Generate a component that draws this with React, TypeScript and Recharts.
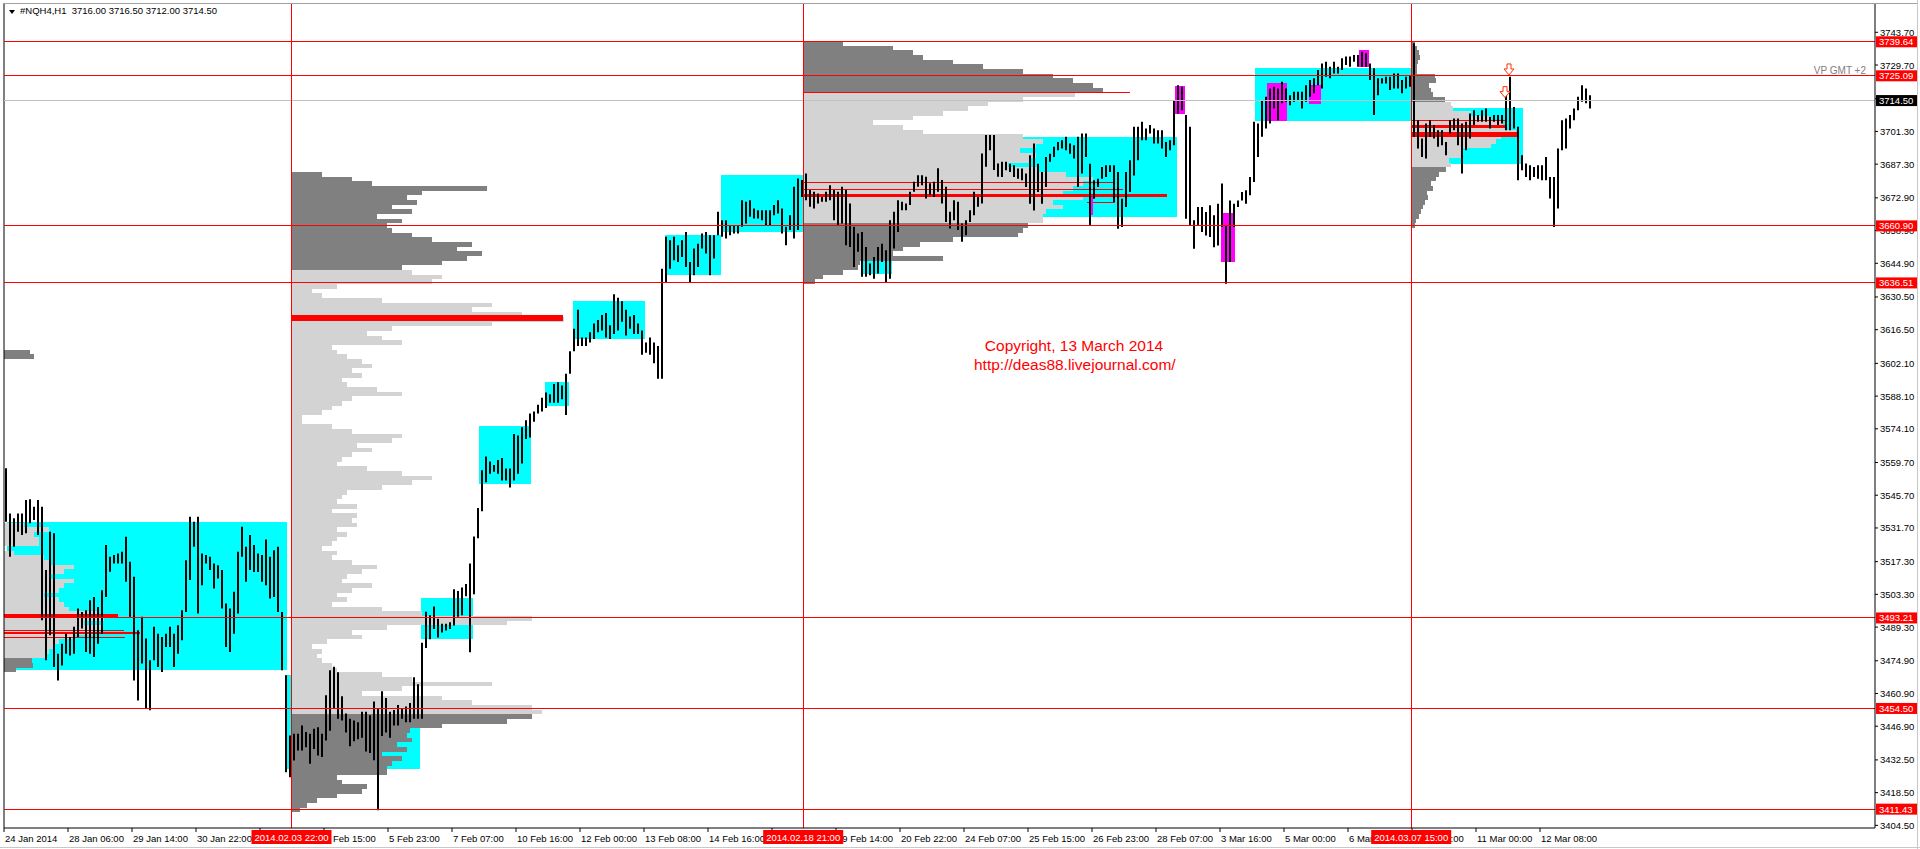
import React from 'react'
import { ComposedChart, Bar, XAxis, YAxis, ReferenceArea, ReferenceLine, ReferenceDot } from 'recharts'

const FONT = '"Liberation Sans", Arial, sans-serif'

// NQH4 hourly bars, two H1 bars merged per entry: [high, low]
const barsLateJan: [number, number][] = [
  [3557.2, 3534.4], [3537.9, 3519.4], [3535.8, 3523.7], [3537.9, 3530.1], [3537.9, 3528.7], [3543.7, 3529.4],
  [3544.0, 3533.7], [3540.8, 3535.1], [3543.7, 3528.7], [3540.8, 3492.2], [3513.7, 3475.1], [3530.1, 3485.8],
  [3529.4, 3472.2], [3477.9, 3466.5], [3482.2, 3472.9], [3486.5, 3477.9], [3485.1, 3477.2], [3489.4, 3477.9],
  [3497.2, 3485.1], [3495.8, 3488.7], [3496.5, 3478.7], [3500.8, 3477.9], [3502.2, 3476.5], [3497.9, 3482.2],
  [3505.1, 3486.5], [3524.4, 3502.2], [3519.4, 3513.0], [3520.1, 3516.5], [3520.8, 3516.5], [3521.5, 3516.5],
  [3527.9, 3508.7], [3517.2, 3493.7], [3510.8, 3466.5], [3487.9, 3457.9], [3493.7, 3473.7], [3484.4, 3454.4],
  [3475.1, 3453.7], [3489.4, 3475.1], [3486.5, 3472.2], [3485.1, 3470.1], [3486.5, 3480.8], [3489.4, 3480.8],
  [3486.5, 3472.2], [3490.1, 3477.9], [3496.5, 3483.7], [3517.9, 3495.8], [3536.5, 3509.4], [3534.4, 3523.7],
  [3536.5, 3495.1], [3520.8, 3507.2], [3520.1, 3516.5], [3519.4, 3513.7], [3516.5, 3505.8], [3515.8, 3510.1],
  [3513.7, 3497.2], [3499.4, 3480.8], [3497.2, 3478.7], [3504.4, 3486.5], [3521.5, 3495.1], [3532.2, 3519.4],
  [3523.7, 3508.7], [3528.7, 3513.7], [3524.4, 3512.9], [3520.8, 3512.9], [3520.1, 3508.7], [3526.8, 3507.2],
  [3519.4, 3501.5], [3522.2, 3502.2], [3523.7, 3495.8], [3495.8, 3470.8], [3468.7, 3427.2], [3442.9, 3425.1],
]

const barsFebEarly: [number, number][] = [
  [3443.7, 3432.2], [3443.7, 3436.5], [3447.2, 3436.5], [3444.4, 3437.9], [3443.7, 3430.8], [3445.8, 3437.2],
  [3446.5, 3434.4], [3443.7, 3433.7], [3460.1, 3440.8], [3470.8, 3445.0], [3472.3, 3454.6], [3470.0, 3450.1],
  [3459.7, 3449.4], [3452.3, 3444.2], [3450.1, 3438.3], [3449.4, 3440.5], [3448.6, 3441.3], [3453.1, 3442.0],
  [3453.1, 3436.1], [3451.6, 3435.4], [3457.5, 3432.4], [3454.5, 3411.0], [3461.9, 3442.7], [3459.0, 3444.2],
  [3453.1, 3442.0], [3453.8, 3447.2], [3456.0, 3447.2], [3454.5, 3450.1], [3455.3, 3448.6], [3456.8, 3448.6],
  [3467.8, 3450.1], [3464.9, 3450.1], [3482.6, 3450.1], [3495.9, 3480.4], [3494.4, 3484.1], [3498.1, 3488.5],
  [3492.9, 3484.8], [3490.7, 3487.0], [3490.7, 3487.8], [3491.4, 3488.5], [3505.5, 3490.0], [3504.7, 3493.7],
  [3506.2, 3494.4], [3507.7, 3502.5], [3516.5, 3478.5], [3528.1, 3503.3],
]

const barsFebMid: [number, number][] = [
  [3540.2, 3527.3], [3556.4, 3538.8], [3562.3, 3551.2], [3560.1, 3554.9], [3558.6, 3555.7], [3560.8, 3554.9],
  [3561.6, 3552.0], [3557.1, 3552.0], [3557.1, 3549.0], [3571.9, 3552.0], [3571.2, 3554.9], [3574.8, 3559.3],
  [3577.8, 3569.7], [3580.7, 3570.4], [3581.5, 3577.1], [3584.4, 3580.7], [3587.4, 3581.5], [3589.6, 3583.0],
  [3588.9, 3585.2], [3593.3, 3585.2], [3594.0, 3585.2], [3592.6, 3586.7], [3597.7, 3580.0], [3607.3, 3597.7],
  [3616.9, 3607.3], [3625.0, 3609.5], [3613.2, 3609.5], [3613.2, 3609.5], [3615.4, 3611.0], [3619.1, 3612.5],
  [3620.6, 3615.4], [3622.8, 3616.2], [3623.6, 3613.2], [3618.4, 3612.5], [3631.7, 3614.7], [3630.2, 3616.2],
  [3628.7, 3619.9], [3625.0, 3614.0], [3622.1, 3616.9], [3622.8, 3614.7], [3619.1, 3614.7], [3616.2, 3605.8],
  [3611.0, 3606.6], [3613.2, 3605.8], [3611.0, 3602.1], [3609.5, 3595.5], [3642.6, 3595.5],
]

const barsFebLate: [number, number][] = [
  [3656.2, 3636.9], [3654.8, 3642.6], [3656.2, 3646.2], [3652.6, 3645.5], [3654.8, 3647.6], [3658.3, 3643.3],
  [3645.5, 3636.9], [3651.2, 3639.8], [3653.3, 3643.3], [3657.6, 3651.2], [3658.3, 3649.1], [3656.9, 3639.8],
  [3656.9, 3646.9], [3666.9, 3656.9], [3663.3, 3656.2], [3663.3, 3655.5], [3661.2, 3656.9], [3661.2, 3657.6],
  [3661.2, 3657.6], [3671.9, 3660.5], [3671.2, 3661.9], [3671.9, 3664.8], [3668.3, 3664.1], [3667.6, 3664.1],
  [3667.6, 3663.3], [3667.6, 3661.2], [3667.6, 3661.2], [3669.8, 3665.5], [3671.9, 3666.2], [3668.3, 3657.6],
  [3660.5, 3652.6], [3665.5, 3659.1], [3677.6, 3655.5], [3681.2, 3659.1], [3680.5, 3673.3],
]

const barsFebEnd: [number, number][] = [
  [3683.3, 3671.9], [3676.2, 3669.1], [3675.5, 3668.3], [3674.8, 3670.5], [3673.3, 3671.2], [3675.5, 3671.2],
  [3678.3, 3671.9], [3676.2, 3663.3], [3675.5, 3661.2], [3677.6, 3661.9], [3676.2, 3652.6], [3670.5, 3651.9],
  [3660.5, 3643.3], [3657.6, 3649.8], [3658.3, 3639.1], [3651.9, 3639.1], [3644.8, 3639.8], [3647.6, 3638.3],
  [3651.9, 3640.5], [3653.3, 3645.5], [3650.5, 3636.9], [3663.3, 3638.3], [3666.9, 3651.2], [3671.9, 3658.3],
  [3671.2, 3667.6], [3670.5, 3667.6], [3675.5, 3669.8], [3679.8, 3675.5], [3682.6, 3677.6], [3682.6, 3678.3],
  [3681.9, 3672.6], [3679.1, 3674.1], [3679.8, 3673.3], [3685.5, 3675.5], [3680.5, 3670.5], [3677.6, 3662.6],
  [3666.9, 3659.8], [3671.9, 3663.3], [3671.2, 3659.1], [3661.9, 3654.1], [3663.3, 3656.9], [3667.6, 3662.6],
  [3675.5, 3665.5], [3673.3, 3669.1], [3691.9, 3670.5], [3699.8, 3686.2], [3699.8, 3693.3], [3699.8, 3684.8],
  [3687.6, 3681.9],
]

const barsMarEarly: [number, number][] = [
  [3688.3, 3681.8], [3688.3, 3684.7], [3687.5, 3684.0], [3686.8, 3681.8], [3685.4, 3681.1], [3685.4, 3680.4],
  [3683.3, 3677.5], [3691.1, 3670.4], [3696.1, 3667.5], [3687.5, 3675.4], [3684.0, 3670.4], [3690.4, 3677.5],
  [3691.8, 3688.3], [3694.7, 3690.4], [3696.8, 3693.3], [3697.5, 3694.0], [3699.0, 3693.3], [3696.1, 3691.8],
  [3695.4, 3689.7], [3699.0, 3677.5], [3700.4, 3683.3], [3700.4, 3690.4], [3687.5, 3661.1], [3680.4, 3672.5],
  [3681.1, 3677.5], [3686.1, 3681.1], [3686.8, 3681.8], [3686.8, 3684.0], [3686.8, 3671.1], [3684.0, 3659.7],
  [3672.5, 3660.4], [3684.0, 3669.0], [3689.0, 3675.4], [3703.3, 3682.5], [3703.3, 3689.0], [3705.4, 3697.5],
  [3702.5, 3697.5], [3704.0, 3700.4], [3702.5, 3696.1], [3701.8, 3696.1], [3701.8, 3694.0], [3696.8, 3690.4],
  [3697.5, 3693.3], [3714.7, 3695.4], [3721.1, 3709.0], [3720.4, 3710.4], [3708.3, 3664.0], [3703.3, 3661.1],
  [3663.3, 3651.1], [3669.0, 3661.1], [3669.0, 3658.3], [3666.8, 3656.8], [3669.7, 3656.1], [3665.4, 3651.8],
  [3670.4, 3652.5], [3679.0, 3660.4], [3661.1, 3636.1], [3671.8, 3645.4], [3670.4, 3660.4], [3671.8, 3669.0],
  [3675.4, 3671.8], [3676.1, 3670.4], [3681.8, 3674.0], [3705.4, 3679.7], [3704.7, 3690.4], [3714.7, 3699.0],
  [3716.1, 3702.5], [3719.7, 3704.7], [3720.4, 3711.1], [3719.7, 3706.1], [3722.5, 3713.3], [3719.7, 3714.0],
  [3716.8, 3712.5], [3718.3, 3714.0], [3718.3, 3714.7],
]

const barsMarMid: [number, number][] = [
  [3718.3, 3711.1], [3721.1, 3714.0], [3723.3, 3716.1], [3724.0, 3717.6], [3727.6, 3721.1], [3730.4, 3719.7],
  [3731.1, 3724.7], [3729.0, 3724.0], [3731.1, 3726.1], [3729.0, 3726.1], [3732.6, 3727.6], [3733.3, 3729.7],
  [3733.3, 3729.0], [3734.0, 3731.1], [3734.0, 3729.0], [3735.4, 3729.0], [3734.7, 3729.0], [3730.4, 3723.3],
  [3728.3, 3708.3], [3724.0, 3716.8], [3724.0, 3721.8], [3724.7, 3721.8], [3724.7, 3719.0], [3726.1, 3719.7],
  [3726.1, 3719.7], [3723.3, 3717.6], [3724.7, 3719.7], [3725.4, 3720.4],
]

const barsMarLate: [number, number][] = [
  [3739.0, 3699.0], [3706.1, 3694.0], [3698.3, 3690.4], [3704.7, 3689.7], [3706.1, 3699.0], [3704.0, 3698.3],
  [3701.8, 3694.7], [3701.8, 3695.4], [3696.8, 3691.1], [3706.1, 3700.4], [3706.8, 3701.8], [3706.8, 3695.4],
  [3704.7, 3683.3], [3705.4, 3693.3], [3709.0, 3698.3], [3710.4, 3704.0], [3708.3, 3705.4], [3710.4, 3705.4],
  [3711.1, 3705.4], [3707.6, 3702.6], [3708.3, 3705.4], [3708.3, 3704.0], [3708.3, 3704.7], [3719.0, 3701.8],
  [3724.7, 3701.8], [3711.8, 3702.6], [3703.3, 3680.4], [3691.1, 3684.7], [3687.6, 3681.8], [3686.8, 3680.4],
  [3686.1, 3681.8], [3686.8, 3681.1], [3686.8, 3680.4], [3690.4, 3680.4], [3681.8, 3672.6], [3681.8, 3660.4],
  [3694.0, 3668.3], [3706.1, 3693.3], [3706.8, 3694.0], [3708.3, 3702.6], [3711.1, 3706.1], [3716.1, 3710.4],
  [3721.1, 3714.0], [3719.7, 3713.3], [3716.8, 3711.1],
]

// axis labels
const timeLabels = [
  '24 Jan 2014', '28 Jan 06:00', '29 Jan 14:00', '30 Jan 22:00', '3 Feb 07:00', '4 Feb 15:00', '5 Feb 23:00',
  '7 Feb 07:00', '10 Feb 16:00', '12 Feb 00:00', '13 Feb 08:00', '14 Feb 16:00', '18 Feb 06:00', '19 Feb 14:00',
  '20 Feb 22:00', '24 Feb 07:00', '25 Feb 15:00', '26 Feb 23:00', '28 Feb 07:00', '3 Mar 16:00', '5 Mar 00:00',
  '6 Mar 08:00', '7 Mar 16:00', '11 Mar 00:00', '12 Mar 08:00',
]
const priceTicks = [
  3743.7, 3729.7, 3715.3, 3701.3, 3687.3, 3672.9, 3658.9, 3644.9, 3630.5, 3616.5, 3602.1, 3588.1, 3574.1,
  3559.7, 3545.7, 3531.7, 3517.3, 3503.3, 3489.3, 3474.9, 3460.9, 3446.9, 3432.5, 3418.5, 3404.5,
]

// horizontal levels and session starts (in bar units)
const levels = [3739.64, 3725.09, 3660.9, 3636.51, 3493.21, 3454.5, 3411.43]
const lastPrice = 3714.5
const sessionStarts = [71.375, 199.3, 351.3]
const sessionLabels = ['2014.02.03 22:00', '2014.02.18 21:00', '2014.03.07 15:00']

// volume profiles, rows of 2 points from base price (volume, in px-like units)
const prof0Vol = [30, 26]
const prof1Vol = [
  12, 29, 28, 43, 45, 50, 55, 70, 90, 99, 80, 100, 95, 65, 60, 55, 40, 55, 60, 70,
  45, 60, 70, 45, 40, 10, 0, 35, 35, 30, 45, 20, 0, 0,
]
const prof2Vol = [
  8, 15, 25, 45, 70, 75, 50, 45, 95, 95, 100, 110, 90, 115, 105, 120, 115, 118, 150, 215,
  240, 250, 240, 180, 150, 70, 110, 200, 120, 90, 45, 40, 30, 25, 30, 20, 35, 70, 60, 95,
  215, 240, 130, 90, 40, 55, 45, 60, 80, 50, 55, 70, 85, 60, 40, 45, 30, 40, 45, 55,
  45, 65, 60, 65, 40, 65, 45, 50, 55, 90, 120, 140, 110, 75, 45, 50, 60, 80, 65, 100,
  110, 60, 40, 10, 10, 30, 40, 50, 60, 110, 85, 55, 50, 70, 60, 80, 70, 55, 45, 40,
  110, 90, 75, 100, 200, 272, 230, 180, 200, 90, 30, 20, 45, 140, 150, 120, 110, 150, 175, 190,
  165, 180, 140, 120, 100, 95, 110, 85, 120, 100, 125, 115, 130, 195, 80, 60, 30,
]
const prof3Vol = [
  12, 20, 40, 55, 57, 140, 90, 100, 117, 150, 215, 220, 225, 240, 240, 243, 260, 250, 280, 260,
  270, 280, 290, 263, 235, 205, 227, 233, 217, 233, 240, 220, 120, 100, 70, 110, 140, 165, 185, 220,
  272, 300, 290, 270, 250, 220, 180, 150, 120, 110, 90, 40,
]
const prof4Vol = [
  4, 5, 8, 10, 12, 14, 17, 16, 22, 20, 25, 28, 35, 40, 38, 52, 50, 80, 85, 90,
  105, 95, 92, 80, 60, 42, 40, 34, 22, 20, 18, 25, 24, 6, 6, 7, 9, 8, 6, 4,
]
const profStart = [-0.5, -0.5, 71.375, 199.3, 351.3]
const profBase = [3604, 3470, 3410, 3636, 3660]
const profVa: [number, number][] = [[0, 0], [3476, 3536], [3452, 3642], [3662, 3718], [3686, 3714]]

// POC / level segments: [price low, price high, from bar, to bar]
const pocSegs: [number, number, number, number][] = [
  [3493.4, 3495.1, -0.5, 28], [3486.2, 3487.2, -0.5, 33.5], [3487.7, 3488.1, -0.5, 29.5], [3484.6, 3485.0, -0.5, 29.8],
  [3620.2, 3622.8, 71.375, 139.25], [3621.3, 3621.7, 139.25, 148],
  [3717.6, 3718.3, 199.3, 281], [3679.2, 3679.6, 199.3, 276.75], [3676.2, 3676.6, 199.3, 279.25],
  [3673.3, 3674.7, 199.3, 290.25], [3670.9, 3671.3, 270.25, 277.25],
  [3699.0, 3701.1, 351.3, 377.75], [3702.6, 3704.0, 351.3, 375.25], [3705.9, 3706.3, 351.3, 375.25],
]

// value-area boxes: [from bar, to bar, price low, price high]
const cyanBoxes: [number, number, number, number][] = [
  [0.17, 70.2, 3470.8, 3534.4], [69.75, 71.25, 3428.7, 3468.7], [71.4, 103.5, 3428.6, 3447.9],
  [103.75, 116.75, 3484.1, 3501.8], [118.25, 131.25, 3550.5, 3575.1], [134.75, 140.75, 3583.7, 3594.0],
  [141.75, 159.75, 3612.5, 3628.7], [164.75, 178.75, 3639.8, 3656.9], [178.75, 199.3, 3658.3, 3682.6],
  [214.25, 221.5, 3640.5, 3646.2], [239.25, 292.75, 3664.7, 3699.0], [312.25, 351.5, 3705.8, 3728.5],
  [352.25, 379.25, 3687.3, 3711.4],
]
const magentaBoxes: [number, number, number, number][] = [
  [292.25, 294.75, 3708.7, 3720.7], [303.75, 307.25, 3645.4, 3666.4], [270.75, 271.75, 3665.4, 3673.3],
  [315.25, 320.25, 3705.7, 3721.8], [325.75, 328.75, 3713.0, 3721.1], [338.25, 340.75, 3728.7, 3736.1],
]

// signal arrows: [bar, price]
const arrows: [number, number][] = [[375.75, 3727.6], [374.75, 3717.9]]

const ROW = 2
const VOL_PER_BAR = 4
const X_DOMAIN: [number, number] = [-0.5, 467.25]
const Y_DOMAIN: [number, number] = [3403.37, 3756.23]
const PLOT_W = 1871
const PLOT_H = 825
const PX_PER_BAR = PLOT_W / (X_DOMAIN[1] - X_DOMAIN[0])
const PX_PER_POINT = PLOT_H / (Y_DOMAIN[1] - Y_DOMAIN[0])

const allBars = [
  ...barsLateJan, ...barsFebEarly, ...barsFebMid, ...barsFebLate,
  ...barsFebEnd, ...barsMarEarly, ...barsMarMid, ...barsMarLate,
]
const data = allBars.map(([hi, lo], i) => ({ i, range: [lo, hi] }))
const tickPos = timeLabels.map((_, k) => -0.5 + 16 * k)

const tags = [
  ...levels.map((p) => ({ price: p, bg: '#ff0000' })),
  { price: lastPrice, bg: '#000000' },
]
const nearestTick = (p: number) =>
  priceTicks.reduce((best, t) => (Math.abs(t - p) < Math.abs(best - p) ? t : best), priceTicks[0])

// x tick: label, plus the red session tag that sits just left of it (drawn on top)
const TimeTick = (props: any) => {
  const { x, y, payload } = props
  const v = payload.value
  const k = tickPos.indexOf(v)
  const own = sessionStarts
    .map((t, n) => ({ t, n }))
    .filter(({ t }) => t > v - 16 && t <= v)
  return (
    <g>
      <text x={x + 1} y={y} dy={8} fontSize={9.5} fontFamily={FONT} fill="#000" textAnchor="start">
        {timeLabels[k]}
      </text>
      {own.map(({ t, n }) => {
        const sx = x - (v - t) * PX_PER_BAR
        return (
          <g key={n}>
            <rect x={sx - 40} y={y - 4} width={80} height={14} fill="#ff0000" />
            <text x={sx} y={y} dy={7} fontSize={9.5} fontFamily={FONT} fill="#fff" textAnchor="middle">
              {sessionLabels[n]}
            </text>
          </g>
        )
      })}
    </g>
  )
}

// y tick: label, plus any price tag nearest to it (drawn on top)
const PriceTick = (props: any) => {
  const { x, y, payload } = props
  const v = payload.value
  const own = tags.filter((t) => nearestTick(t.price) === v)
  return (
    <g>
      <text x={x} y={y} dy={3.5} fontSize={9.5} fontFamily={FONT} fill="#000" textAnchor="start">
        {v.toFixed(2)}
      </text>
      {own.map((t) => {
        const ty = y + (v - t.price) * PX_PER_POINT
        return (
          <g key={t.price}>
            <rect x={x - 4} y={ty - 5.5} width={42} height={11} fill={t.bg} />
            <text x={x - 1} y={ty} dy={3.5} fontSize={9.5} fontFamily={FONT} fill="#fff">
              {t.price.toFixed(2)}
            </text>
          </g>
        )
      })}
    </g>
  )
}

const DownArrow = (props: any) => {
  const { cx, cy } = props
  return (
    <path
      d={`M${cx - 2},${cy - 6} h4 v5 h3 l-5,6 l-5,-6 h3 z`}
      fill="#fff"
      stroke="#ff3300"
      strokeWidth={1}
    />
  )
}

export default function App() {
  const profiles = [prof0Vol, prof1Vol, prof2Vol, prof3Vol, prof4Vol]
  return (
    <div style={{ position: 'absolute', left: 0, top: 0, width: 1920, height: 849, background: '#fff', overflow: 'hidden' }}>
      <ComposedChart width={1920} height={849} data={data} margin={{ top: 3, right: 0, bottom: 0, left: 4 }}>
        <XAxis
          dataKey="i"
          type="number"
          domain={X_DOMAIN}
          allowDataOverflow
          ticks={tickPos}
          interval={0}
          height={21}
          tick={<TimeTick />}
          tickSize={4}
          tickLine={{ stroke: '#000' }}
          axisLine={{ stroke: '#000' }}
        />
        <YAxis
          orientation="right"
          type="number"
          domain={Y_DOMAIN}
          allowDataOverflow
          ticks={priceTicks}
          interval={0}
          width={45}
          tickSize={3}
          tickMargin={2}
          tick={<PriceTick />}
          tickLine={{ stroke: '#000' }}
          axisLine={{ stroke: '#000' }}
        />

        {cyanBoxes.map(([a, b, lo, hi], n) => (
          <ReferenceArea key={`c${n}`} x1={a} x2={b} y1={lo} y2={hi} fill="#00ffff" fillOpacity={1} stroke="none" ifOverflow="visible" shapeRendering="crispEdges" />
        ))}

        {profiles.flatMap((vol, n) =>
          vol.map((v, k) => {
            if (!v) return null
            const p = profBase[n] + k * ROW
            const inVa = p >= profVa[n][0] && p < profVa[n][1]
            return (
              <ReferenceArea
                key={`p${n}-${k}`}
                x1={profStart[n]}
                x2={profStart[n] + v / VOL_PER_BAR}
                y1={p}
                y2={p + ROW}
                fill={inVa ? '#d3d3d3' : '#808080'}
                fillOpacity={1}
                stroke="none"
                ifOverflow="visible"
                shapeRendering="crispEdges"
              />
            )
          })
        )}

        {pocSegs.map(([lo, hi, a, b], n) => (
          <ReferenceArea key={`r${n}`} x1={a} x2={b} y1={lo} y2={hi} fill="#ff0000" fillOpacity={1} stroke="none" ifOverflow="visible" shapeRendering="crispEdges" />
        ))}

        {magentaBoxes.map(([a, b, lo, hi], n) => (
          <ReferenceArea key={`m${n}`} x1={a} x2={b} y1={lo} y2={hi} fill="#ff00ff" fillOpacity={1} stroke="none" ifOverflow="visible" shapeRendering="crispEdges" />
        ))}

        <ReferenceLine x={-0.5} stroke="#000" />
        <ReferenceLine y={lastPrice} stroke="#c0c0c0" shapeRendering="crispEdges" />
        {levels.map((p) => (
          <ReferenceLine key={`l${p}`} y={p} stroke="#ff0000" shapeRendering="crispEdges" />
        ))}
        {sessionStarts.map((t, n) => (
          <ReferenceLine key={`s${n}`} x={t} stroke="#ff0000" shapeRendering="crispEdges" />
        ))}

        <Bar dataKey="range" fill="#000" barSize={2} isAnimationActive={false} />

        {arrows.map(([t, p], n) => (
          <ReferenceDot key={`a${n}`} x={t} y={p} r={5} shape={<DownArrow />} ifOverflow="visible" />
        ))}
      </ComposedChart>

      {/* window frame */}
      <div style={{ position: 'absolute', left: 3, top: 3, width: 1914, height: 1, background: '#a0a0a0' }} />
      <div style={{ position: 'absolute', left: 1917, top: 0, width: 1, height: 849, background: '#c8c8c8' }} />
      <div style={{ position: 'absolute', left: 0, top: 847, width: 1920, height: 1, background: '#c8c8c8' }} />

      {/* header */}
      <div style={{ position: 'absolute', left: 9, top: 10, width: 0, height: 0, borderLeft: '3.5px solid transparent', borderRight: '3.5px solid transparent', borderTop: '4px solid #000' }} />
      <div style={{ position: 'absolute', left: 20, top: 5, fontFamily: FONT, fontSize: 9.5, color: '#000', whiteSpace: 'pre' }}>
        #NQH4,H1  3716.00 3716.50 3712.00 3714.50
      </div>

      <div style={{ position: 'absolute', right: 1920 - 1866, top: 65, fontFamily: FONT, fontSize: 10, color: '#808080' }}>
        VP GMT +2
      </div>

      <div style={{ position: 'absolute', left: 974, width: 200, top: 337, textAlign: 'center', fontFamily: FONT, fontSize: 15.5, lineHeight: '18.5px', color: '#ff0000' }}>
        Copyright, 13 March 2014
        <br />
        http://deas88.livejournal.com/
      </div>
    </div>
  )
}
